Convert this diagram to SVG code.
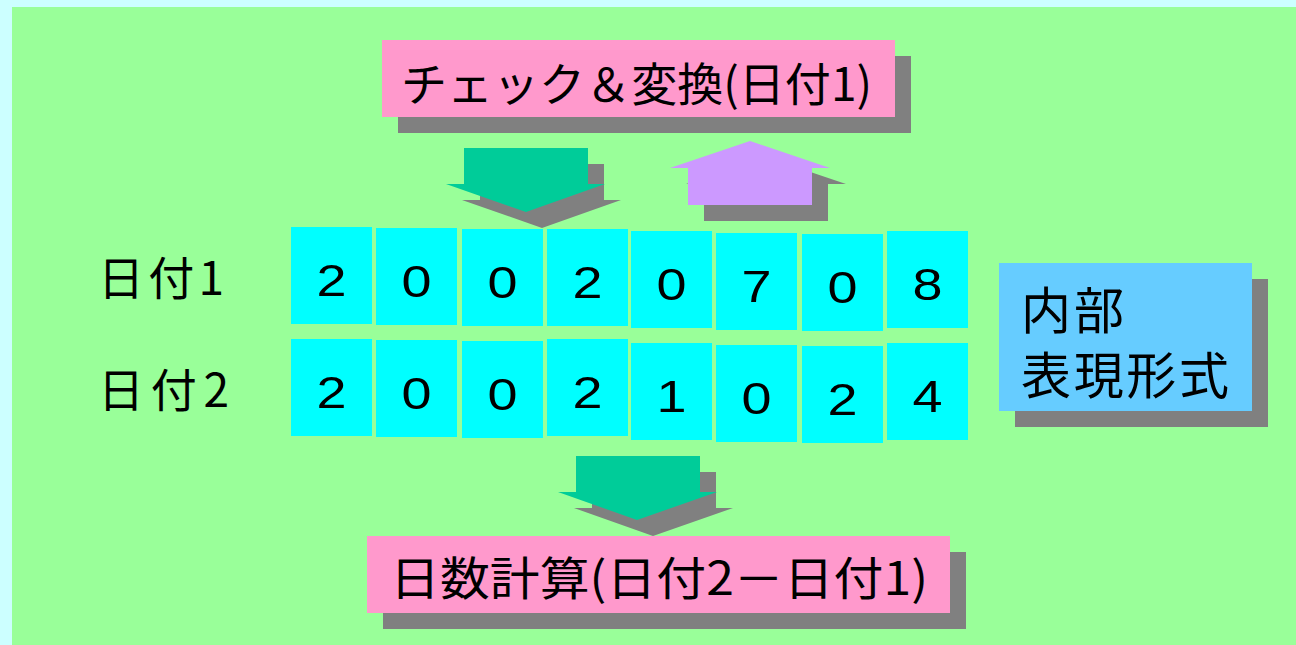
<svg xmlns="http://www.w3.org/2000/svg" width="1296" height="645" viewBox="0 0 1296 645">
  <defs>
    <style>
      .shadow { fill: #808080; }
      .pink { fill: #ff99cc; }
      .cell { fill: #00ffff; }
      .blue { fill: #66ccff; }
      .down { fill: #00cc99; }
      .up { fill: #cc99ff; }
      .jp { font-family: "Noto Sans CJK JP", "Liberation Sans", sans-serif; fill: #000; }
      .digit { font-family: "Liberation Sans", Arial, sans-serif; font-size: 44px; fill: #000; text-anchor: middle; }
    </style>
  </defs>
  <rect x="0" y="0" width="1296" height="645" fill="#ccffff"/>
  <rect x="12" y="7" width="1284" height="638" fill="#99ff99"/>

  <g id="connectors">
    <g id="arrow-down-top">
      <polygon class="shadow" points="480,164 604,164 604,200 621,200 542,228 462,200 480,200"/>
      <polygon class="down" points="464,148 588,148 588,184 605,184 526,212 446,184 464,184"/>
    </g>
    <g id="arrow-up-top">
      <polygon class="shadow" points="766,157 846,184 828,184 828,221 704,221 704,184 686,184"/>
      <polygon class="up" points="750,141 830,168 812,168 812,205 688,205 688,168 670,168"/>
    </g>
    <g id="arrow-down-bottom">
      <polygon class="shadow" points="592,472 716,472 716,508 733,508 653,536 574,508 592,508"/>
      <polygon class="down" points="576,456 700,456 700,492 717,492 637,520 558,492 576,492"/>
    </g>
  </g>

  <g id="node-check">
    <rect class="shadow" x="398" y="56" width="513" height="77"/>
    <rect class="pink" x="382" y="40" width="513" height="77"/>
    <text class="jp" x="401" y="101" font-size="46" textLength="471" lengthAdjust="spacingAndGlyphs">チェック＆変換(日付1)</text>
  </g>

  <g id="node-calc">
    <rect class="shadow" x="383" y="552" width="583" height="77"/>
    <rect class="pink" x="367" y="536" width="583" height="77"/>
    <text class="jp" x="390" y="595" font-size="46" textLength="538" lengthAdjust="spacingAndGlyphs">日数計算(日付2－日付1)</text>
  </g>

  <g id="node-internal">
    <rect class="shadow" x="1015" y="279" width="253" height="148"/>
    <rect class="blue" x="999" y="263" width="253" height="148"/>
    <text class="jp" x="1021" y="329" font-size="50" textLength="103">内部</text>
    <text class="jp" x="1021" y="394" font-size="50" textLength="208">表現形式</text>
  </g>

  <g id="label-date1">
    <text class="jp" x="98" y="295" font-size="46" textLength="126">日付1</text>
  </g>
  <g id="label-date2">
    <text class="jp" x="98" y="407" font-size="46" textLength="131">日付2</text>
  </g>

  <g id="row-date1">
    <rect class="cell" x="291" y="227" width="81" height="97"/>
    <text class="digit" x="331.5" y="296" textLength="30" lengthAdjust="spacingAndGlyphs">2</text>
    <rect class="cell" x="376" y="228" width="81" height="97"/>
    <text class="digit" x="416.5" y="297" textLength="30" lengthAdjust="spacingAndGlyphs">0</text>
    <rect class="cell" x="462" y="229" width="81" height="97"/>
    <text class="digit" x="502.5" y="298" textLength="30" lengthAdjust="spacingAndGlyphs">0</text>
    <rect class="cell" x="547" y="229" width="81" height="97"/>
    <text class="digit" x="587.5" y="298" textLength="30" lengthAdjust="spacingAndGlyphs">2</text>
    <rect class="cell" x="631" y="231" width="81" height="97"/>
    <text class="digit" x="671.5" y="300" textLength="30" lengthAdjust="spacingAndGlyphs">0</text>
    <rect class="cell" x="716" y="233" width="81" height="97"/>
    <text class="digit" x="756.5" y="302" textLength="30" lengthAdjust="spacingAndGlyphs">7</text>
    <rect class="cell" x="802" y="234" width="81" height="97"/>
    <text class="digit" x="842.5" y="303" textLength="30" lengthAdjust="spacingAndGlyphs">0</text>
    <rect class="cell" x="887" y="231" width="81" height="97"/>
    <text class="digit" x="927.5" y="300" textLength="30" lengthAdjust="spacingAndGlyphs">8</text>
  </g>

  <g id="row-date2">
    <rect class="cell" x="291" y="339" width="81" height="97"/>
    <text class="digit" x="331.5" y="408" textLength="30" lengthAdjust="spacingAndGlyphs">2</text>
    <rect class="cell" x="376" y="340" width="81" height="97"/>
    <text class="digit" x="416.5" y="409" textLength="30" lengthAdjust="spacingAndGlyphs">0</text>
    <rect class="cell" x="462" y="341" width="81" height="97"/>
    <text class="digit" x="502.5" y="410" textLength="30" lengthAdjust="spacingAndGlyphs">0</text>
    <rect class="cell" x="547" y="339" width="81" height="97"/>
    <text class="digit" x="587.5" y="408" textLength="30" lengthAdjust="spacingAndGlyphs">2</text>
    <rect class="cell" x="631" y="343" width="81" height="97"/>
    <text class="digit" x="671.5" y="412" textLength="30" lengthAdjust="spacingAndGlyphs">1</text>
    <rect class="cell" x="716" y="345" width="81" height="97"/>
    <text class="digit" x="756.5" y="414" textLength="30" lengthAdjust="spacingAndGlyphs">0</text>
    <rect class="cell" x="802" y="346" width="81" height="97"/>
    <text class="digit" x="842.5" y="415" textLength="30" lengthAdjust="spacingAndGlyphs">2</text>
    <rect class="cell" x="887" y="343" width="81" height="97"/>
    <text class="digit" x="927.5" y="412" textLength="30" lengthAdjust="spacingAndGlyphs">4</text>
  </g>
</svg>
